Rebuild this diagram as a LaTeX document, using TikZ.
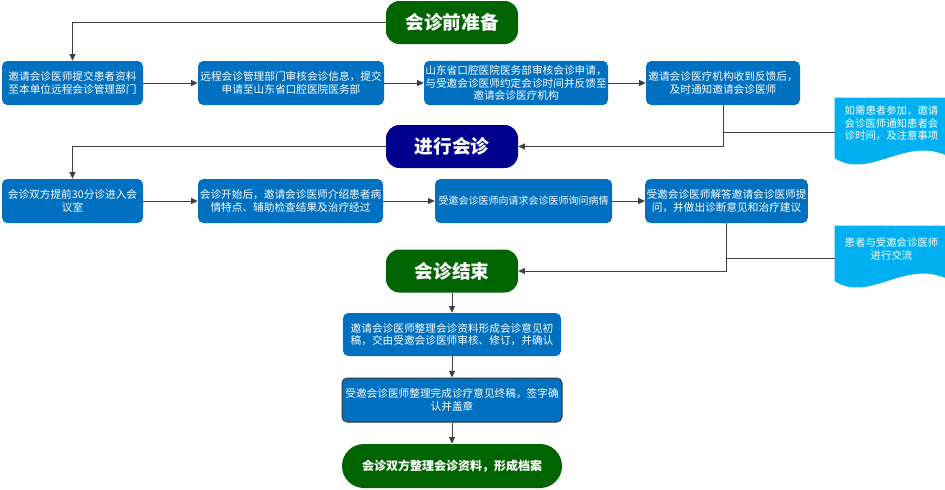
\documentclass[tikz,border=0pt]{standalone}
\usepackage{fontspec}
\setmainfont{Noto Sans CJK SC}
\usetikzlibrary{calc,arrows.meta,backgrounds}
\definecolor{stepblue}{HTML}{0070C0}
\definecolor{notecyan}{HTML}{00B0F0}
\definecolor{phasegreen}{HTML}{006400}
\definecolor{phasenavy}{HTML}{00008F}
\definecolor{linegray}{HTML}{404040}
\tikzset{
	stepbox/.style={fill=stepblue, text=white, rounded corners=4pt, align=center, inner xsep=1pt, minimum height=33pt, font=\fontsize{8}{9.6}\selectfont},
	phase/.style={text=white, rounded corners=10pt, minimum width=99pt, minimum height=32.25pt, font=\fontsize{14}{16}\selectfont\bfseries},
	notebox/.style={text=white, align=center, minimum width=84.75pt, inner sep=0pt, font=\fontsize{7.8}{9.4}\selectfont},
	arr/.style={draw=linegray, line width=0.75pt, -{Triangle[length=5pt,width=4.5pt]}},
	link/.style={draw=linegray, line width=0.75pt}
}

\begin{document}
\begin{tikzpicture}[x=0.75pt, y=-0.75pt]
		%%%%% START %%%%%
		\useasboundingbox (0, 0) rectangle (945, 489);
		
		% phases
		\node[phase, fill=phasegreen] (prep) at (452, 22.5) {会诊前准备};
		\node[phase, fill=phasenavy] (meet) at (452, 146.5) {进行会诊};
		\node[phase, fill=phasegreen] (close) at (452, 271) {会诊结束};
		
		% first row
		\node[stepbox, minimum width=105.75pt] (submit) at (72.5, 83) {邀请会诊医师提交患者资料\\至本单位远程会诊管理部门};
		\node[stepbox, minimum width=139.5pt] (audit) at (291, 83) {远程会诊管理部门审核会诊信息，提交\\申请至山东省口腔医院医务部};
		\node[stepbox, minimum width=133.5pt] (office) at (516, 83) {山东省口腔医院医务部审核会诊申请，\\与受邀会诊医师约定会诊时间并反馈至\\邀请会诊医疗机构};
		\node[stepbox, minimum width=115.5pt] (notify) at (723, 83) {邀请会诊医疗机构收到反馈后，\\及时通知邀请会诊医师};
		
		% second row
		\node[stepbox, minimum width=105.75pt] (enter) at (72.5, 201) {会诊双方提前30分诊进入会\\议室};
		\node[stepbox, minimum width=138.75pt] (intro) at (290.5, 201) {会诊开始后，邀请会诊医师介绍患者病\\情特点、辅助检查结果及治疗经过};
		\node[stepbox, minimum width=132.75pt, font=\fontsize{7.5}{9}\selectfont] (ask) at (523.5, 201) {受邀会诊医师向请求会诊医师询问病情};
		\node[stepbox, minimum width=119.25pt] (answer) at (726.5, 201) {受邀会诊医师解答邀请会诊医师提\\问，并做出诊断意见和治疗建议};
		
		% last column
		\node[stepbox, minimum width=163.5pt, minimum height=32.25pt] (draft) at (452, 334.5) {邀请会诊医师整理会诊资料形成会诊意见初\\稿，交由受邀会诊医师审核、修订，并确认};
		\node[stepbox, draw=linegray!80!black, line width=0.75pt, minimum width=165pt] (final) at (452, 400) {受邀会诊医师整理完成诊疗意见终稿，签字确\\认并盖章};
		\node[phase, fill=phasegreen, rounded corners=16.5pt, minimum width=165pt, minimum height=33pt, font=\fontsize{9}{11}\selectfont\bfseries] (archive) at (452, 466) {会诊双方整理会诊资料，形成档案};
		
		% notes
		\node[notebox, minimum height=38.25pt] (patient) at (891.5, 123.5) {如需患者参加，邀请\\会诊医师通知患者会\\诊时间，及注意事项};
		\node[notebox, minimum height=34.5pt] (talk) at (891.5, 249) {患者与受邀会诊医师\\进行交流};
		\begin{scope}[on background layer]
			\fill[notecyan] (patient.north west) -- (patient.north east) -- ($(patient.south east)+(0,7)$) .. controls ($(patient.south east)+(-43,-14)$) and ($(patient.south west)+(35,31)$) .. ($(patient.south west)+(0,9)$) -- cycle;
			\fill[notecyan] (talk.north west) -- (talk.north east) -- ($(talk.south east)+(0,7)$) .. controls ($(talk.south east)+(-43,-14)$) and ($(talk.south west)+(35,31)$) .. ($(talk.south west)+(0,9)$) -- cycle;
		\end{scope}
		
		% connectors
		\draw[arr] (prep.west) -| (submit.north);
		\draw[arr] (submit.east) -- (audit.west);
		\draw[arr] (audit.east) -- (office.west);
		\draw[arr] (office.east) -- (notify.west);
		\draw[arr] (notify.south) |- (meet.east);
		\draw[link] ([yshift=-7pt]patient.west) -- ([yshift=-7pt]patient.west -| notify.south);
		
		\draw[arr] (meet.west) -| (enter.north);
		\draw[arr] (enter.east) -- (intro.west);
		\draw[arr] (intro.east) -- (ask.west);
		\draw[arr] (ask.east) -- (answer.west);
		\draw[arr] (answer.south) |- (close.east);
		\draw[link] ([yshift=-7pt]talk.west) -- ([yshift=-7pt]talk.west -| answer.south);
		
		\draw[arr] (close.south) -- (draft.north);
		\draw[arr] (draft.south) -- (final.north);
		\draw[arr] (final.south) -- (archive.north);
		
		%%%%% END %%%%%
	\end{tikzpicture}
\end{document}
